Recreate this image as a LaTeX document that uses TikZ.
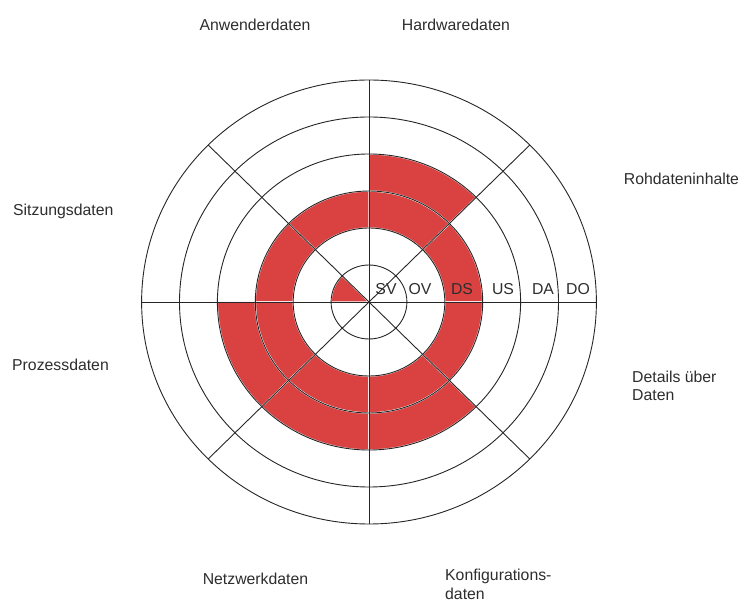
\documentclass[tikz,border=0pt]{standalone}
\usepackage{fontspec}
\setmainfont{Liberation Sans}
\usetikzlibrary{positioning}
\definecolor{cellred}{RGB}{218,66,66}
\definecolor{gridgray}{RGB}{38,38,38}
\definecolor{labelgray}{RGB}{45,45,45}

\begin{document}
\begin{tikzpicture}[x=37.9pt, y=37pt, font=\fontsize{15.8}{18.4}\selectfont]
  \tikzset{
    cell/.style={fill=cellred, draw=white, line width=1.4pt},
    gridline/.style={draw=gridgray, line width=0.9pt},
    sectorlabel/.style={inner sep=0pt, text=labelgray, align=left},
    ringlabel/.style={anchor=base, inner sep=0pt, text=labelgray}
  }
  \useasboundingbox (-369pt,-299pt) rectangle (374pt,302pt);
  \coordinate (centre) at (0,0);

  % red cells: start angle / inner ring / outer ring
  \foreach \a/\ri/\ro in {0/2/3, 45/2/3, 45/3/4, 90/2/3, 135/2/3, 180/2/3,
                          180/3/4, 225/2/3, 225/3/4, 270/2/3, 270/3/4, 315/2/3} {
    \draw[cell] (\a:\ri) -- (\a:\ro) arc[start angle=\a, end angle={\a+45}, radius=\ro]
      -- ({\a+45}:\ri) arc[start angle={\a+45}, end angle=\a, radius=\ri] -- cycle;
  }
  \draw[cell] (centre) -- (135:1) arc[start angle=135, end angle=180, radius=1] -- cycle;

  % rings and spokes
  \foreach \r in {1,...,6}
    \draw[gridline] (centre) circle[radius=\r];
  \foreach \a in {0,45,...,315}
    \draw[gridline] (centre) -- (\a:6);

  % ring names
  \foreach \x/\txt in {17/SV, 51/OV, 93/DS, 134/US, 174/DA, 209/DO}
    \node[ringlabel] (ring\txt) at ({\x*1pt}, 7.7pt) {\txt};

  % sector names
  \node[sectorlabel, anchor=base] (anwender) at (-114pt, 271.5pt) {Anwenderdaten};
  \node[sectorlabel, anchor=base] (hardware) at (87pt, 271.5pt) {Hardwaredaten};
  \node[sectorlabel, anchor=base] (rohdaten) at (312.5pt, 117.5pt) {Rohdateninhalte};
  \node[sectorlabel, anchor=north west] (details) at (263pt, -68.8pt) {Details über\\Daten};
  \node[sectorlabel, anchor=north west] (konfig) at (76pt, -267pt) {Konfigurations-\\daten};
  \node[sectorlabel, anchor=base] (netzwerk) at (-113.5pt, -282pt) {Netzwerkdaten};
  \node[sectorlabel, anchor=base west] (prozess) at (-357pt, -68.7pt) {Prozessdaten};
  \node[sectorlabel, anchor=base west] (sitzung) at (-356pt, 86pt) {Sitzungsdaten};
\end{tikzpicture}
\end{document}
